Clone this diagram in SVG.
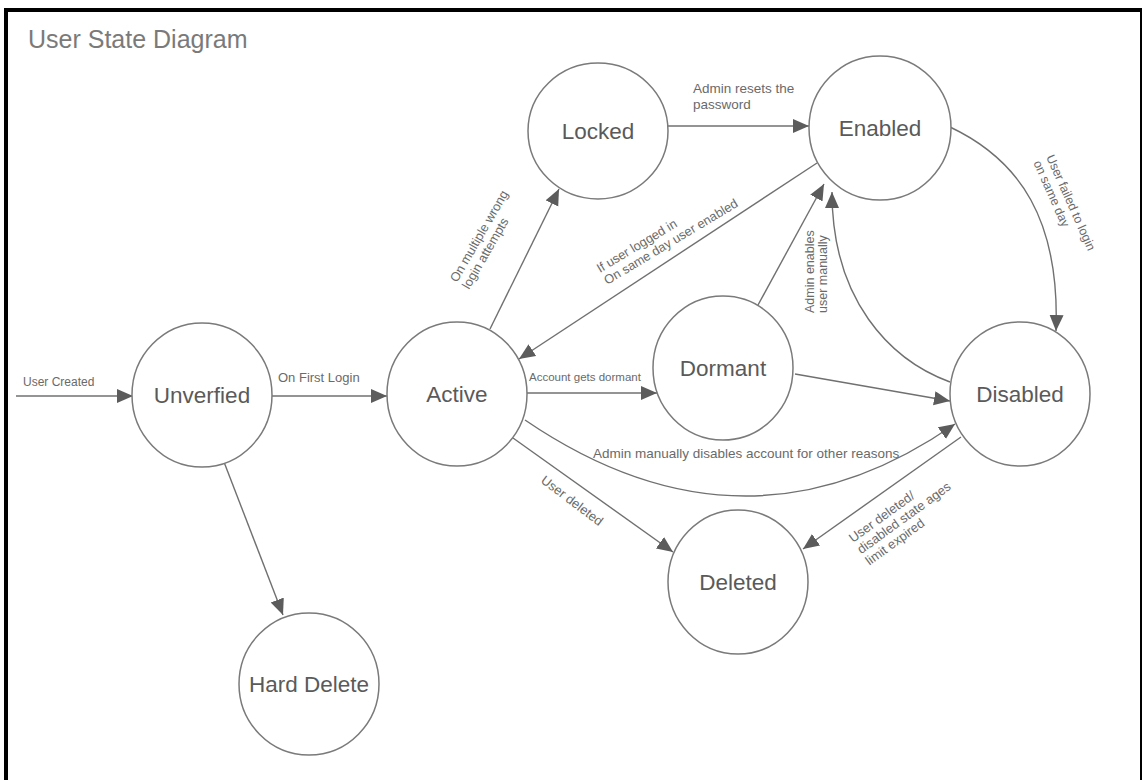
<svg xmlns="http://www.w3.org/2000/svg" width="1147" height="780" viewBox="0 0 1147 780">
  <style>
    .state ellipse { fill: #ffffff; stroke: #7a7a7a; stroke-width: 1.5; }
    .state text { font-family: "Liberation Sans", Arial, sans-serif; font-size: 22.5px; fill: #5a5a5a; text-anchor: middle; }
    .edge { fill: none; stroke: #707070; stroke-width: 1.4; marker-end: url(#arrow); }
    .lbl { font-family: "Liberation Sans", Arial, sans-serif; font-size: 12.8px; fill: #6a6a6a; }
    .title { font-family: "Liberation Sans", Arial, sans-serif; font-size: 25px; fill: #7a7a7a; }
  </style>
  <defs>
    <marker id="arrow" markerUnits="userSpaceOnUse" markerWidth="17" markerHeight="15" refX="16" refY="7" orient="auto">
      <path d="M0,0 L16,7 L0,14 z" fill="#5c5c5c"/>
    </marker>
  </defs>

  <rect x="0" y="0" width="1147" height="780" fill="#ffffff"/>

  <!-- frame -->
  <g id="frame" stroke="#000000" fill="none">
    <line x1="4" y1="10" x2="1142" y2="10" stroke-width="4"/>
    <line x1="6" y1="8" x2="6" y2="780" stroke-width="4"/>
    <line x1="1141" y1="10" x2="1141" y2="780" stroke-width="2"/>
  </g>

  <text class="title" x="28" y="48">User State Diagram</text>

  <!-- transitions -->
  <g id="connectors">
    <path class="edge" d="M16 396 L133 396"/>
    <path class="edge" d="M272 396 L387 396"/>
    <path class="edge" d="M224 462 L283 615"/>
    <path class="edge" d="M490 329 L559 189"/>
    <path class="edge" d="M668 126 L809 126"/>
    <path class="edge" d="M817 163 L519 359"/>
    <path class="edge" d="M758 305 L824 184"/>
    <path class="edge" d="M950 382 C890 360 832 300 832 192"/>
    <path class="edge" d="M950 127 C1020 160 1060 220 1056 331"/>
    <path class="edge" d="M527 393 L657 393"/>
    <path class="edge" d="M795 374 L950 401"/>
    <path class="edge" d="M525 420 Q745 570 955 424"/>
    <path class="edge" d="M513 438 L673 552"/>
    <path class="edge" d="M961 437 L803 549"/>

    <text class="lbl" x="23" y="386" style="font-size:12px">User Created</text>
    <text class="lbl" x="278" y="382" style="font-size:13px">On First Login</text>
    <text class="lbl" x="693" y="93" style="font-size:13.5px">Admin resets the</text>
    <text class="lbl" x="693" y="109" style="font-size:13.5px">password</text>
    <g transform="translate(457 283) rotate(-60)">
      <text class="lbl" x="0" y="0">On multiple wrong</text>
      <text class="lbl" x="0" y="14">login attempts</text>
    </g>
    <g transform="translate(600 273) rotate(-31)">
      <text class="lbl" x="0" y="0">If user logged in</text>
      <text class="lbl" x="0" y="14">On same day user enabled</text>
    </g>
    <g transform="translate(814 313) rotate(-90)">
      <text class="lbl" x="0" y="0" style="font-size:12.5px">Admin enables</text>
      <text class="lbl" x="0" y="13" style="font-size:12.5px">user manually</text>
    </g>
    <g transform="translate(1046 157) rotate(66)">
      <text class="lbl" x="0" y="0" style="font-size:12.5px">User failed to login</text>
      <text class="lbl" x="0" y="14" style="font-size:12.5px">on same day</text>
    </g>
    <text class="lbl" x="529" y="381" style="font-size:11.5px">Account gets dormant</text>
    <text class="lbl" x="593" y="458" style="font-size:13.5px">Admin manually disables account for other reasons</text>
    <g transform="translate(540 482) rotate(37)">
      <text class="lbl" x="0" y="0" style="font-size:13px">User deleted</text>
    </g>
    <g transform="translate(853 543) rotate(-36)">
      <text class="lbl" x="0" y="0" style="font-size:13px">User deleted/</text>
      <text class="lbl" x="0" y="14" style="font-size:13px">disabled state ages</text>
      <text class="lbl" x="0" y="28" style="font-size:13px">limit expired</text>
    </g>
  </g>

  <!-- states -->
  <g id="unverified" class="state">
    <ellipse cx="202" cy="395" rx="70" ry="72"/>
    <text x="202" y="403">Unverfied</text>
  </g>
  <g id="active" class="state">
    <ellipse cx="457" cy="394" rx="70" ry="72"/>
    <text x="457" y="402">Active</text>
  </g>
  <g id="locked" class="state">
    <ellipse cx="598" cy="131" rx="70" ry="68"/>
    <text x="598" y="139">Locked</text>
  </g>
  <g id="enabled" class="state">
    <ellipse cx="880" cy="128" rx="71" ry="72"/>
    <text x="880" y="136">Enabled</text>
  </g>
  <g id="dormant" class="state">
    <ellipse cx="723" cy="368" rx="70" ry="72"/>
    <text x="723" y="376">Dormant</text>
  </g>
  <g id="disabled" class="state">
    <ellipse cx="1020" cy="394" rx="70" ry="72"/>
    <text x="1020" y="402">Disabled</text>
  </g>
  <g id="deleted" class="state">
    <ellipse cx="738" cy="582" rx="70" ry="72"/>
    <text x="738" y="590">Deleted</text>
  </g>
  <g id="hard-delete" class="state">
    <ellipse cx="309" cy="684" rx="70" ry="71"/>
    <text x="309" y="692">Hard Delete</text>
  </g>
</svg>
